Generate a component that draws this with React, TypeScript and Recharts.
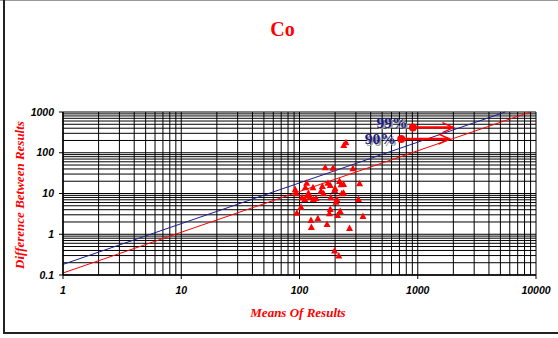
import React from 'react';
import { ComposedChart, Scatter, XAxis, YAxis, CartesianGrid, ReferenceLine } from 'recharts';

const title = 'Co';
const xTitle = 'Means Of Results';
const yTitle = 'Difference Between Results';

const xTicks = [1, 10, 100, 1000, 10000];
const yTicks = [0.1, 1, 10, 100, 1000];
const gridMultipliers = [1, 2, 3, 4, 5, 6, 7, 8, 9];
const xDecades = [1, 10, 100, 1000];
const yDecades = [0.1, 1, 10, 100];
const gridX = [...xDecades.flatMap((d) => gridMultipliers.map((m) => +(d * m).toPrecision(3))), 10000];
const gridY = [...yDecades.flatMap((d) => gridMultipliers.map((m) => +(d * m).toPrecision(3))), 1000];

const means = [247, 237, 165, 192, 283, 115, 92, 94, 112, 130, 156, 174, 182, 218, 225, 236, 322, 200, 198, 152, 160, 119, 117, 123, 236, 228, 105, 111, 131, 138, 184, 207, 204, 315, 103, 182, 95, 179, 221, 210, 344, 143, 125, 171, 126, 265, 198, 215];
const diffs = [180, 154, 43.9, 42.9, 41.5, 18.4, 12.7, 10.1, 14.2, 14.2, 15.3, 18.4, 16.2, 20.2, 16.8, 17.1, 17.8, 13.4, 12.2, 11.7, 10.1, 10.5, 9.2, 8.4, 10.5, 10.1, 8.1, 7.3, 7.3, 7.8, 8.1, 7.2, 6.3, 7.3, 4.75, 4.17, 3.38, 3.27, 3.72, 2.97, 2.81, 2.47, 2.24, 1.79, 1.51, 1.43, 0.4, 0.3];
const points = means.map((x, i) => ({ x, y: diffs[i] }));

const line99 = [{ x: 1, y: 0.182 }, { x: 5495, y: 1000 }];
const line90 = [{ x: 1, y: 0.112 }, { x: 8930, y: 1000 }];
const arrow99 = { label: '99%', seg: [{ x: 910, y: 415 }, { x: 2000, y: 415 }] };
const arrow90 = { label: '90%', seg: [{ x: 725, y: 217 }, { x: 1860, y: 217 }] };

const tickStyle = { fontFamily: '"Liberation Sans", Arial, sans-serif', fontWeight: 'bold', fontStyle: 'italic', fontSize: 10.5, fill: '#000' };

const Triangle = (props: any) => {
  const { cx, cy } = props;
  if (cx == null || cy == null) return null;
  return <polygon points={`${cx},${cy - 3.5} ${cx + 3.5},${cy + 3} ${cx - 3.5},${cy + 3}`} fill="#ff0000" />;
};

const makeArrow = (label: string, dy: number) => (props: any) => {
  const { x1, y1, x2, y2 } = props;
  return (
    <g>
      <text x={x1 - 4} y={y1 + dy + 1.5} textAnchor="end" fontFamily='"Liberation Serif", "Times New Roman", serif' fontWeight="bold" fontSize={15.5} fill="#a0a0a0">{label}</text>
      <text x={x1 - 5.5} y={y1 + dy} textAnchor="end" fontFamily='"Liberation Serif", "Times New Roman", serif' fontWeight="bold" fontSize={15.5} fill="#1c1c80">{label}</text>
      <line x1={x1} y1={y1} x2={x2} y2={y2} stroke="#ff0000" strokeWidth={2.5} />
      <polyline points={`${x2 - 11},${y2 - 5} ${x2},${y2} ${x2 - 11},${y2 + 5}`} fill="none" stroke="#ff0000" strokeWidth={1.5} />
      <circle cx={x1} cy={y1} r={4} fill="#ff0000" />
    </g>
  );
};

export default function App() {
  return (
    <div style={{ position: 'absolute', left: 0, top: 0, width: 558, height: 338, background: '#fff' }}>
      <ComposedChart width={558} height={338} margin={{ top: 112, right: 22, left: 0, bottom: 0 }}>
        <CartesianGrid stroke="#000" strokeWidth={1} horizontalValues={gridY} verticalValues={gridX} />
        <XAxis
          dataKey="x"
          type="number"
          scale="log"
          domain={[1, 10000]}
          ticks={xTicks}
          interval={0}
          height={63}
          tickSize={4}
          tickMargin={8}
          tick={tickStyle}
          axisLine={{ stroke: '#000', strokeWidth: 1.5 }}
          tickLine={{ stroke: '#000' }}
          allowDataOverflow
        />
        <YAxis
          dataKey="y"
          type="number"
          scale="log"
          domain={[0.1, 1000]}
          ticks={yTicks}
          interval={0}
          width={63}
          tickSize={4}
          tickMargin={5}
          tick={tickStyle}
          tickFormatter={(v: number) => String(v)}
          axisLine={{ stroke: '#000', strokeWidth: 1.5 }}
          tickLine={{ stroke: '#000' }}
          allowDataOverflow
        />
        <ReferenceLine segment={line99} stroke="#1c1c90" strokeWidth={1} ifOverflow="visible" />
        <ReferenceLine segment={line90} stroke="#ff0000" strokeWidth={1} ifOverflow="visible" />
        <Scatter data={points} shape={Triangle} isAnimationActive={false} />
        <ReferenceLine segment={arrow99.seg} ifOverflow="visible" shape={makeArrow(arrow99.label, 0)} />
        <ReferenceLine segment={arrow90.seg} ifOverflow="visible" shape={makeArrow(arrow90.label, 5)} />
      </ComposedChart>
      <svg width={558} height={338} style={{ position: 'absolute', left: 0, top: 0, pointerEvents: 'none' }}>
        <line x1={0} y1={0.5} x2={558} y2={0.5} stroke="#999" strokeWidth={1} />
        <line x1={4} y1={0} x2={4} y2={334} stroke="#222" strokeWidth={2} />
        <line x1={3} y1={333} x2={558} y2={333} stroke="#222" strokeWidth={2} />
        <text x={282.5} y={36} textAnchor="middle" fontFamily='"Liberation Serif", "Times New Roman", serif' fontWeight="bold" fontSize={20} fill="#ff0000">{title}</text>
        <text x={298} y={317} textAnchor="middle" fontFamily='"Liberation Serif", "Times New Roman", serif' fontWeight="bold" fontStyle="italic" fontSize={13} fill="#ff0000">{xTitle}</text>
        <text x={0} y={0} transform="translate(23.5,195) rotate(-90)" textAnchor="middle" fontFamily='"Liberation Serif", "Times New Roman", serif' fontWeight="bold" fontStyle="italic" fontSize={13} fill="#ff0000">{yTitle}</text>
      </svg>
    </div>
  );
}
